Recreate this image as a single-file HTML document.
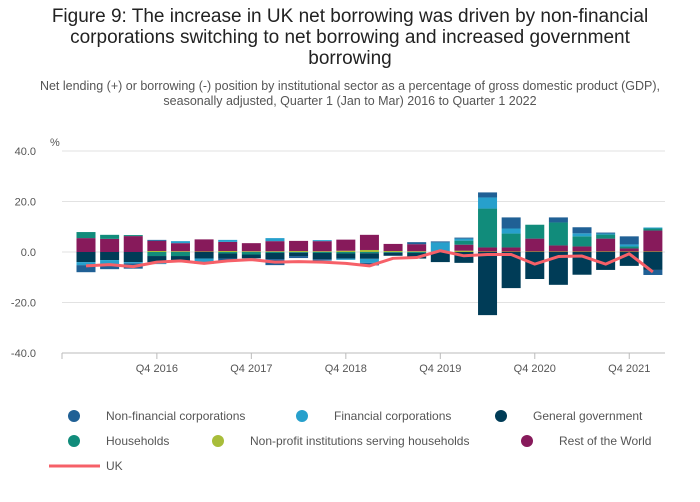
<!DOCTYPE html>
<html><head><meta charset="utf-8"><style>
body{margin:0;background:#fff;font-family:"Liberation Sans",sans-serif;}
#wrap{position:relative;width:700px;height:502px;overflow:hidden}
.title{position:absolute;left:0;width:700px;top:6px;text-align:center;font-size:19px;line-height:21px;color:#222}
.sub{position:absolute;left:0;width:700px;top:79px;text-align:center;font-size:12.5px;line-height:15px;color:#555}
</style></head><body>
<div id="wrap">
<div class="title">Figure 9: The increase in UK net borrowing was driven by non-financial<br>corporations switching to net borrowing and increased government<br>borrowing</div>
<div class="sub">Net lending (+) or borrowing (-) position by institutional sector as a percentage of gross domestic product (GDP),<br>seasonally adjusted, Quarter 1 (Jan to Mar) 2016 to Quarter 1 2022</div>
<svg id="chart" width="700" height="502" style="position:absolute;left:0;top:0"></svg>
</div>
<script>
const quarters=["Q1 2016","Q2 2016","Q3 2016","Q4 2016","Q1 2017","Q2 2017","Q3 2017","Q4 2017","Q1 2018","Q2 2018","Q3 2018","Q4 2018","Q1 2019","Q2 2019","Q3 2019","Q4 2019","Q1 2020","Q2 2020","Q3 2020","Q4 2020","Q1 2021","Q2 2021","Q3 2021","Q4 2021","Q1 2022"];
const nfc=[-2.8,-1.6,-2.1,0.4,-0.5,-0.3,-0.8,0,-2.4,-0.8,-0.5,0,-1,0,0.8,0.4,0.4,2,4.4,0,2,2.4,0.4,3.2,-2];
const fc=[-1.2,-2,-0.5,-0.8,0.8,-1.8,0.8,0,1.2,0,0.4,-0.5,-1.6,0,0,3.6,0.8,4.4,2,0,0,1.2,0.4,0.8,0.4];
const gg=[-4,-3.2,-4,-2.4,-1.8,-2.6,-2,-1.5,-2.4,-1.3,-2.5,-2,-2.2,-1.2,-2.2,-4,-4.3,-25,-14.3,-10.7,-13,-9,-7.1,-5.5,-7.1];
const hh=[2.4,1.6,0.4,-1.6,-1.6,0,-0.6,-1,-0.4,-0.3,-0.4,-0.6,-0.5,-0.3,-0.4,0,1.6,15.4,5.5,5.5,9.1,4,1.6,0.8,0.8];
const npish=[0,0,0,0.4,0.3,0.2,0.4,0.3,0.3,0.4,0.3,0.5,0.8,0.4,0.3,0.2,0.5,0.2,0.2,0.2,0.2,0.2,0.2,0.2,0.2];
const row=[5.5,5.2,6.3,4,3.2,4.8,3.6,3.2,4,4,4,4.4,6,2.8,2.8,0,2.4,1.6,1.6,5.1,2.4,2,5.1,1.2,8.3];
const uk=[-5.5,-5,-5.8,-4,-3.5,-4.5,-3.5,-3,-4,-3.8,-4,-4.5,-5.5,-2.5,-2.2,0.5,-1.5,-1,-1,-4.8,-1.8,-1.6,-4.8,-0.7,-7.9];
const yTicks=[40,20,0,-20,-40];
const yTickLabels=["40.0","20.0","0.0","-20.0","-40.0"];
const xTickIdx=[3,7,11,15,19,23];
const seriesNames=["Non-financial corporations","Financial corporations","General government","Households","Non-profit institutions serving households","Rest of the World"];
const colors={nfc:"#206095",fc:"#27a0cc",gg:"#003c57",hh:"#118c7b",np:"#a8bd3a",row:"#871a5b",uk:"#f66068"};

const svg=document.getElementById('chart');
const NS="http://www.w3.org/2000/svg";
const y=v=>252-v*2.525;
const x=i=>86+i*23.62;
function mk(t,a){const e=document.createElementNS(NS,t);for(const k in a)e.setAttribute(k,a[k]);svg.appendChild(e);return e;}

yTicks.forEach((t,i)=>{
  const g=mk('line',{x1:62,x2:665,y1:y(t),y2:y(t),stroke:i==4?'#bbb':'#e2e2e2','stroke-width':1});
  
  
  const l=mk('text',{x:36,y:y(t)+4,'text-anchor':'end','font-size':11,fill:'#555'});
  l.textContent=yTickLabels[i];
  
  
});
const pct=mk('text',{x:50,y:146,'font-size':11,fill:'#555'});pct.textContent='%';


mk('line',{x1:62,x2:62,y1:353,y2:359,stroke:'#bbb'});
xTickIdx.forEach(i=>{
  mk('line',{x1:x(i),x2:x(i),y1:353,y2:359,stroke:'#bbb'});
  const t=mk('text',{x:x(i),y:372,'text-anchor':'middle','font-size':11,fill:'#555'});
  t.textContent=quarters[i];
  
  
});
const order=[["np",npish],["row",row],["hh",hh],["gg",gg],["fc",fc],["nfc",nfc]];
quarters.forEach((q,i)=>{
  let pos=0,neg=0;
  order.forEach(([k,arr])=>{
    const v=arr[i];if(!v)return;
    let a,b;
    if(v>0){a=pos;b=pos+v;pos=b;}else{a=neg;b=neg+v;neg=b;}
    const r=mk('rect',{x:x(i)-9.5,width:19,y:Math.min(y(a),y(b)),height:Math.abs(y(a)-y(b)),fill:colors[k]});
    
    
  });
});
const pts=uk.map((v,i)=>x(i)+','+y(v)).join(' ');
const ln=mk('polyline',{points:pts,fill:'none',stroke:colors.uk,'stroke-width':3,'stroke-linejoin':'round'});



const leg=[["nfc",74,416],["fc",302,416],["gg",501,416],["hh",74,441],["np",218,441],["row",527,441]];
leg.forEach(([k,cx,cy],i)=>{
  const c=mk('circle',{cx:cx,cy:cy,r:6,fill:colors[k]});
  
  
  const t=mk('text',{x:cx+32,y:cy+4,'font-size':12,fill:'#555'});
  t.textContent=seriesNames[i];
  
  
});
const ul=mk('line',{x1:49,x2:100,y1:466,y2:466,stroke:colors.uk,'stroke-width':3});


const ut=mk('text',{x:106,y:470,'font-size':12,fill:'#555'});ut.textContent='UK';


</script>
</body></html>
